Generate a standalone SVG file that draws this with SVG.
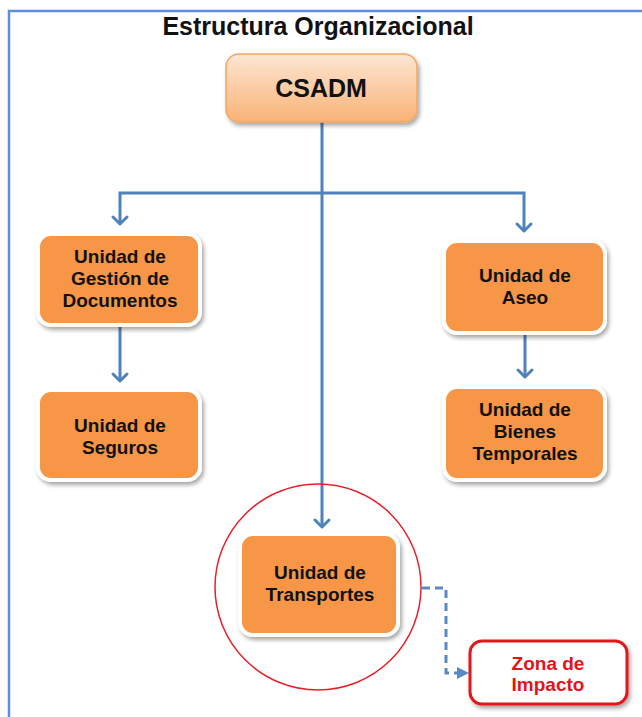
<svg xmlns="http://www.w3.org/2000/svg" width="642" height="717" viewBox="0 0 642 717">
  <style>
    .title { font-family: "Liberation Sans", Arial, sans-serif; font-weight: bold; font-size: 25px; fill: #111; text-anchor: middle; }
    .lbl { font-family: "Liberation Sans", Arial, sans-serif; font-weight: bold; font-size: 19px; fill: #111; text-anchor: middle; }
    .top { font-family: "Liberation Sans", Arial, sans-serif; font-weight: bold; font-size: 25px; fill: #111; text-anchor: middle; }
    .red { font-family: "Liberation Sans", Arial, sans-serif; font-weight: bold; font-size: 19px; fill: #e3131b; text-anchor: middle; }
    .unit { fill: #f79646; stroke: #ffffff; stroke-width: 4; filter: url(#shadow); }
    .link { fill: none; stroke: #4f81bd; stroke-width: 3; }
    .dash { fill: none; stroke: #5b89c4; stroke-width: 3; stroke-dasharray: 8 5; }
  </style>
  <defs>
    <linearGradient id="peach" x1="0" y1="0" x2="0" y2="1">
      <stop offset="0" stop-color="#fde6d4"/>
      <stop offset="1" stop-color="#f9b276"/>
    </linearGradient>
    <filter id="shadow" x="-10%" y="-10%" width="125%" height="130%">
      <feGaussianBlur in="SourceAlpha" stdDeviation="2"/>
      <feOffset dx="1.5" dy="3" result="b"/>
      <feComponentTransfer><feFuncA type="linear" slope="0.35"/></feComponentTransfer>
      <feMerge><feMergeNode/><feMergeNode in="SourceGraphic"/></feMerge>
    </filter>
    <marker id="chev" markerUnits="userSpaceOnUse" markerWidth="20" markerHeight="20" refX="0" refY="0" viewBox="-10 -10 20 20" orient="auto" overflow="visible">
      <path d="M-7,-7 L0,0 L-7,7" fill="none" stroke="#4f81bd" stroke-width="3" stroke-linecap="round" stroke-linejoin="round"/>
    </marker>
  </defs>

  <!-- outer frame -->
  <rect x="9" y="11" width="720" height="760" fill="#ffffff" stroke="#5b8fde" stroke-width="2.5"/>

  <text class="title" x="318" y="35">Estructura Organizacional</text>

  <!-- connectors -->
  <g id="connectors">
    <path class="link" d="M322 122 V527" marker-end="url(#chev)"/>
    <path class="link" d="M322 193 H120 V224" marker-end="url(#chev)"/>
    <path class="link" d="M322 193 H524 V231" marker-end="url(#chev)"/>
    <path class="link" d="M120 327 V381" marker-end="url(#chev)"/>
    <path class="link" d="M525 335 V377" marker-end="url(#chev)"/>
    <path class="dash" d="M422 588 H446 V673 H460"/>
    <path d="M457 667 L469 673 L457 679 Z" fill="#5b89c4"/>
  </g>

  <!-- highlight ring -->
  <circle cx="318" cy="587" r="103" fill="none" stroke="#e8202a" stroke-width="1.5"/>

  <g id="csadm">
    <rect x="226" y="54" width="191" height="68" rx="13" fill="url(#peach)" stroke="#f5a660" stroke-width="1.5" filter="url(#shadow)"/>
    <text class="top" x="321" y="97">CSADM</text>
  </g>

  <g id="gestion">
    <rect class="unit" x="38" y="234" width="162" height="91" rx="13"/>
    <text class="lbl" x="120" y="263">Unidad de</text>
    <text class="lbl" x="120" y="285">Gestión de</text>
    <text class="lbl" x="120" y="307">Documentos</text>
  </g>

  <g id="seguros">
    <rect class="unit" x="38" y="390" width="162" height="90" rx="13"/>
    <text class="lbl" x="120" y="432">Unidad de</text>
    <text class="lbl" x="120" y="454">Seguros</text>
  </g>

  <g id="aseo">
    <rect class="unit" x="444" y="241" width="161" height="92" rx="13"/>
    <text class="lbl" x="525" y="282">Unidad de</text>
    <text class="lbl" x="525" y="304">Aseo</text>
  </g>

  <g id="bienes">
    <rect class="unit" x="444" y="387" width="161" height="93" rx="13"/>
    <text class="lbl" x="525" y="416">Unidad de</text>
    <text class="lbl" x="525" y="438">Bienes</text>
    <text class="lbl" x="525" y="460">Temporales</text>
  </g>

  <g id="transportes">
    <rect class="unit" x="240" y="534" width="158" height="101" rx="13"/>
    <text class="lbl" x="320" y="579">Unidad de</text>
    <text class="lbl" x="320" y="601">Transportes</text>
  </g>

  <g id="zona">
    <rect x="470" y="641" width="157" height="63" rx="12" fill="#ffffff" stroke="#e3131b" stroke-width="3" filter="url(#shadow)"/>
    <text class="red" x="548" y="670">Zona de</text>
    <text class="red" x="548" y="691">Impacto</text>
  </g>
</svg>
